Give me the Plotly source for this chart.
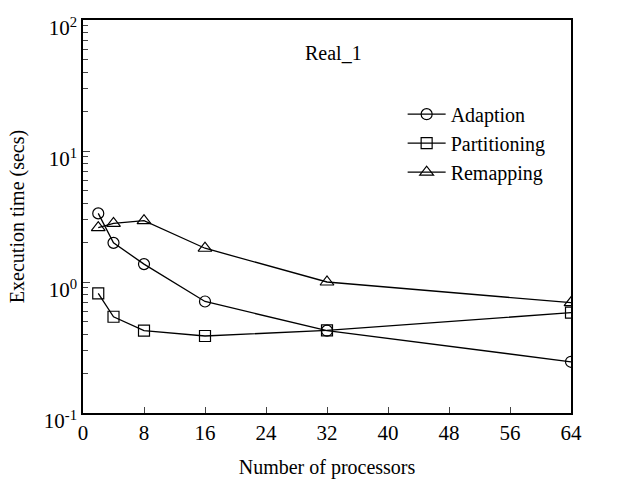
import plotly.graph_objects as go

processors = [2, 4, 8, 16, 32, 64]
adaption = [3.34, 1.99, 1.37, 0.71, 0.425, 0.246]
partitioning = [0.82, 0.543, 0.425, 0.387, 0.427, 0.583]
remapping = [2.6, 2.8, 2.94, 1.81, 1.0, 0.695]

x_ticks = [0, 8, 16, 24, 32, 40, 48, 56, 64]
y_ticks = [0.1, 1, 10, 100]
y_ticktext = ["10<sup>-1</sup>", "10<sup>0</sup>", "10<sup>1</sup>", "10<sup>2</sup>"]
y_minor = [m * 10 ** e for e in (-1, 0, 1) for m in range(2, 10)]

FONT = "Liberation Serif, Times New Roman, serif"
FS = 21

fig = go.Figure()
series = [
    ("Adaption", adaption, "circle-open", 11),
    ("Partitioning", partitioning, "square-open", 11),
    ("Remapping", remapping, "triangle-up-open", 12),
]
for name, vals, sym, sz in series:
    fig.add_trace(go.Scatter(
        x=processors, y=vals, name=name, mode="lines+markers",
        line=dict(color="black", width=1.3),
        marker=dict(symbol=sym, size=sz, color="black", line=dict(width=1.2, color="black")),
    ))

fig.update_layout(
    width=642, height=489,
    margin=dict(l=83, r=71, t=20, b=76),
    paper_bgcolor="white", plot_bgcolor="white",
    font=dict(family=FONT, size=FS, color="black"),
    showlegend=True,
    legend=dict(x=0.655, y=0.81, xanchor="left", yanchor="top",
                bgcolor="rgba(0,0,0,0)", font=dict(size=FS - 1, family=FONT),
                itemwidth=38, tracegroupgap=0),
    annotations=[dict(text="Real_1", x=0.513, y=0.95, xref="paper", yref="paper",
                      showarrow=False, font=dict(size=FS - 1, family=FONT))],
)
fig.update_xaxes(
    range=[0, 64], tickvals=x_ticks, ticks="inside", ticklen=6, tickwidth=1,
    showline=True, linecolor="black", linewidth=1.5, mirror=True,
    showgrid=False, zeroline=False,
    title=dict(text="Number of processors", font=dict(size=FS - 1), standoff=16),
    tickfont=dict(size=FS),
)
fig.update_yaxes(
    type="log", range=[-1, 2], tickvals=y_ticks, ticktext=y_ticktext,
    ticks="inside", ticklen=7, tickwidth=1,
    minor=dict(tickvals=y_minor, ticks="inside", ticklen=5, tickwidth=1, showgrid=False),
    showline=True, linecolor="black", linewidth=1.5, mirror=True,
    showgrid=False, zeroline=False,
    ticklabelshift=8, ticklabeloverflow="allow",
    title=dict(text="Execution time (secs)", font=dict(size=FS - 1), standoff=14),
    tickfont=dict(size=FS),
)

fig.write_html("out.html")
